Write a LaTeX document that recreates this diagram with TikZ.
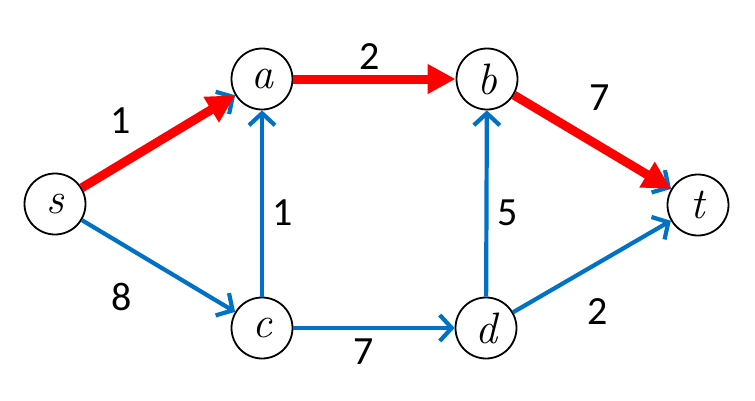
\documentclass[tikz,border=0pt]{standalone}
\usepackage{fontspec}
\newfontfamily\lblfont{Carlito}
\newfontfamily\vfont{Latin Modern Roman}
\usetikzlibrary{arrows.meta}
\definecolor{eblue}{RGB}{0,114,198}
\definecolor{ered}{RGB}{255,0,0}
\begin{document}
\begin{tikzpicture}[x=1pt,y=-1pt,
  vert/.style={circle,draw=black,line width=1.8pt,minimum size=61pt,inner sep=0pt,font=\vfont\itshape\fontsize{44}{44}\selectfont},
  bedge/.style={draw=eblue,line width=4.2pt,-{Straight Barb[length=12pt,width=26pt,line width=4.2pt]}},
  redge/.style={draw=ered,line width=9pt,-{Triangle[length=28pt,width=28pt]}},
  lbl/.style={font=\lblfont\fontsize{40}{40}\selectfont,text=black}]
\useasboundingbox (0,0) rectangle (755,400);
\fill[white] (0,0) rectangle (755,400);
\node[vert] (s) at (55,204) {s};
\node[vert] (a) at (262,79) {a};
\node[vert] (b) at (487,79) {b};
\node[vert] (t) at (698,205) {t};
\node[vert] (c) at (262,328) {c};
\node[vert] (d) at (486,328) {d};
\draw[bedge] (s) -- (a);
\draw[bedge] (s) -- (c);
\draw[bedge] (c) -- (a);
\draw[bedge] (c) -- (d);
\draw[bedge] (d) -- (b);
\draw[bedge] (d) -- (t);
\draw[bedge] (b) -- (t);
\draw[redge] (s) -- (a);
\draw[redge] (a) -- (b);
\draw[redge] (b) -- (t);
\node[lbl] (l1) at (121,121) {1};
\node[lbl] (l2) at (122,297) {8};
\node[lbl] (l3) at (283,213) {1};
\node[lbl] (l4) at (370,57) {2};
\node[lbl] (l5) at (600,98) {7};
\node[lbl] (l6) at (508,213) {5};
\node[lbl] (l7) at (364,352) {7};
\node[lbl] (l8) at (598,312) {2};
\end{tikzpicture}
\end{document}
